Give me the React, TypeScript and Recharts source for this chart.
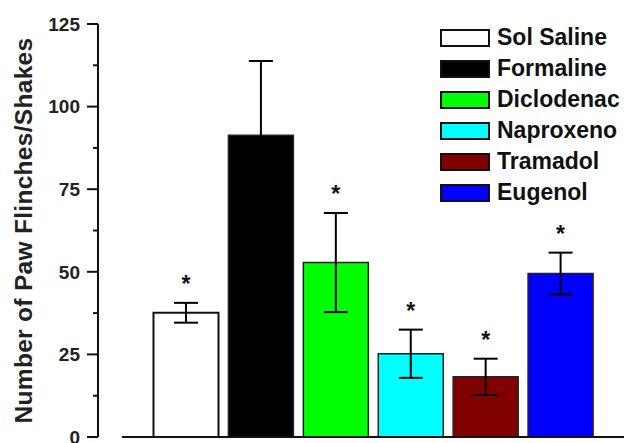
import React from 'react';
import { BarChart, Bar, XAxis, YAxis, Cell, ErrorBar, LabelList, Legend } from 'recharts';

const groups = ['Sol Saline', 'Formaline', 'Diclodenac', 'Naproxeno', 'Tramadol', 'Eugenol'];
const means = [37.6, 91.3, 52.8, 25.2, 18.2, 49.5];
const sems = [3.0, 22.5, 15.0, 7.3, 5.5, 6.3];
const significant = [true, false, true, true, true, true];
const colors = ['#ffffff', '#000000', '#00ff00', '#00ffff', '#800000', '#0000ff'];
const yTicks = [0, 12.5, 25, 37.5, 50, 62.5, 75, 87.5, 100, 112.5, 125];
const yTitle = 'Number of Paw Flinches/Shakes';

const FONT = '"Liberation Sans", Arial, Helvetica, sans-serif';
const TICK_SIZE = 11;
const TICK_MARGIN = 7;

const data = groups.map((g, i) => ({ name: g, value: means[i], err: sems[i] }));

const YTick = (props: any) => {
  const { x, y, payload } = props;
  const v = payload.value;
  const major = v % 25 === 0;
  const axisX = x + TICK_MARGIN + TICK_SIZE;
  const len = major ? TICK_SIZE : 5;
  return (
    <g>
      <line x1={axisX - len} x2={axisX} y1={y} y2={y} stroke="#111" strokeWidth={2} />
      {major && (
        <text x={x} y={y} dy="0.36em" textAnchor="end" fontFamily={FONT} fontWeight="bold" fontSize={19} fill="#222">
          {v}
        </text>
      )}
    </g>
  );
};

const Title = (props: any) => {
  const vb = props.viewBox || { x: 0, y: 0, width: 0, height: 0 };
  const cx = vb.x + 23;
  const cy = vb.y + vb.height / 2;
  return (
    <text
      x={cx}
      y={cy}
      transform={`rotate(-90, ${cx}, ${cy})`}
      textAnchor="middle"
      dominantBaseline="central"
      fontFamily={FONT}
      fontWeight="bold"
      fontSize={24.5}
      letterSpacing={0.3}
      fill="#222"
    >
      {yTitle}
    </text>
  );
};

const Star = (props: any) => {
  const { x, y, width, height, value, index } = props;
  if (!significant[index]) return null;
  const pxPerUnit = height / value;
  const errTop = y - sems[index] * pxPerUnit;
  return (
    <text x={x + width / 2} y={errTop - 11} textAnchor="middle" fontFamily={FONT} fontWeight="bold" fontSize={23} fill="#111">
      *
    </text>
  );
};

const LegendContent = () => (
  <div style={{ fontFamily: FONT }}>
    {groups.map((g, i) => (
      <div key={g} style={{ display: 'flex', alignItems: 'center', height: 31 }}>
        <div
          style={{
            width: 50,
            height: 18,
            boxSizing: 'border-box',
            border: '2px solid #111',
            background: colors[i],
          }}
        />
        <span style={{ marginLeft: 7, fontWeight: 'bold', fontSize: 23, lineHeight: 1, color: '#111' }}>{g}</span>
      </div>
    ))}
  </div>
);

export default function App() {
  return (
    <div style={{ position: 'absolute', left: 0, top: 0, width: 635, height: 443, background: '#fff' }}>
      <BarChart width={635} height={443} data={data} margin={{ top: 24, right: 11, bottom: 5, left: 0 }}>
        <XAxis
          dataKey="name"
          tick={false}
          tickLine={false}
          height={1}
          padding={{ left: 50.5, right: 26 }}
          axisLine={{ stroke: '#111', strokeWidth: 2, strokeDasharray: '0 24 2000 0' }}
        />
        <YAxis
          domain={[0, 125]}
          ticks={yTicks}
          interval={0}
          width={98}
          tickSize={TICK_SIZE}
          tickMargin={TICK_MARGIN}
          tickLine={false}
          tick={<YTick />}
          axisLine={{ stroke: '#111', strokeWidth: 2 }}
          label={{ content: <Title /> }}
        />
        <Legend
          layout="vertical"
          align="center"
          verticalAlign="middle"
          wrapperStyle={{ left: 440, top: 22, width: 195 }}
          content={<LegendContent />}
        />
        <Bar dataKey="value" barSize={65} isAnimationActive={false}>
          {data.map((d, i) => (
            <Cell key={d.name} fill={colors[i]} stroke={i === 0 ? '#111' : '#222'} strokeWidth={i === 0 ? 2 : 1.5} />
          ))}
          <ErrorBar dataKey="err" width={12} strokeWidth={2} stroke="#000" direction="y" isAnimationActive={false} />
          <LabelList dataKey="value" content={<Star />} />
        </Bar>
      </BarChart>
    </div>
  );
}
